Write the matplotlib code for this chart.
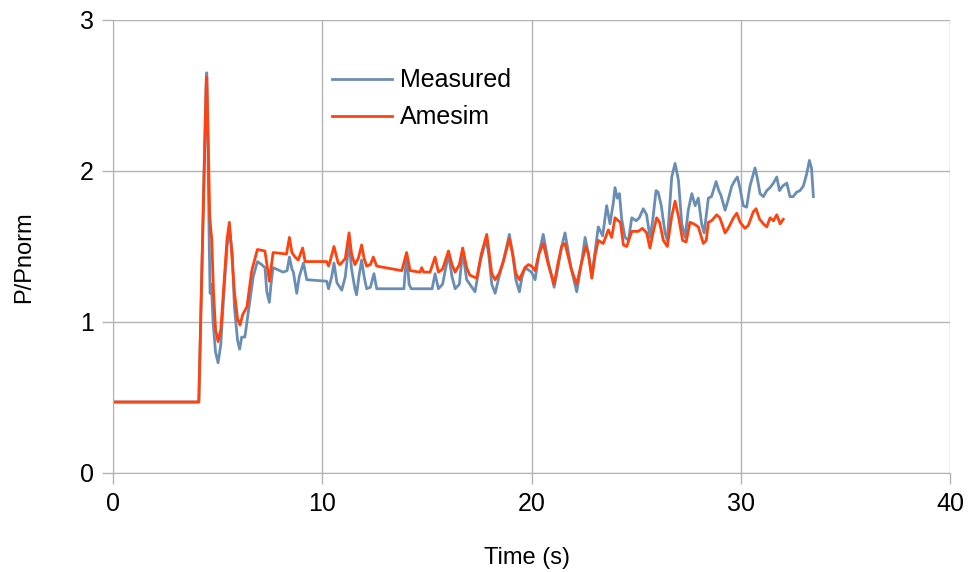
import matplotlib.pyplot as plt

# Measured pressure ratio
meas_t = [0, 4.1, 4.45, 4.48, 4.52, 4.6, 4.64, 4.7, 4.78, 4.9, 5.02, 5.15, 5.3, 5.45, 5.56, 5.62,
          5.7, 5.8, 5.95, 6.05, 6.15, 6.3, 6.5, 6.7, 6.9, 7.1, 7.26, 7.35, 7.47, 7.55, 7.65, 8.13,
          8.32, 8.43, 8.55, 8.62, 8.78, 8.9, 9.1, 9.26, 10.21, 10.3, 10.45, 10.56, 10.7, 10.93,
          11.1, 11.28, 11.4, 11.56, 11.64, 11.75, 11.88, 12.0, 12.12, 12.3, 12.47, 12.6, 13.9,
          14.03, 14.15, 14.25, 15.25, 15.39, 15.55, 15.75, 16.03, 16.2, 16.35, 16.55, 16.71, 16.9,
          17.05, 17.3, 17.55, 17.83, 17.95, 18.1, 18.26, 18.45, 18.65, 18.94, 19.1, 19.25, 19.42,
          19.55, 19.69, 20.0, 20.17, 20.35, 20.56, 20.8, 21.08, 21.25, 21.44, 21.6, 21.9, 22.16,
          22.4, 22.56, 22.72, 22.88, 23.19, 23.4, 23.59, 23.75, 23.91, 23.99, 24.1, 24.2, 24.31,
          24.47, 24.63, 24.79, 25.0, 25.15, 25.34, 25.5, 25.66, 25.79, 25.95, 26.05, 26.2, 26.38,
          26.49, 26.7, 26.86, 27.02, 27.18, 27.34, 27.49, 27.66, 27.82, 27.97, 28.13, 28.25, 28.45,
          28.6, 28.82, 28.95, 29.05, 29.25, 29.4, 29.57, 29.73, 29.84, 29.97, 30.12, 30.28, 30.44,
          30.6, 30.68, 30.78, 30.92, 31.08, 31.24, 31.4, 31.56, 31.72, 31.85, 32.0, 32.2, 32.35,
          32.5, 32.67, 32.83, 32.99, 33.15, 33.28, 33.38, 33.47]
meas_p = [0.47, 0.47, 2.6, 2.65, 2.3, 1.5, 1.19, 1.25, 1.0, 0.8, 0.73, 0.85, 1.2, 1.5, 1.62, 1.55,
          1.45, 1.1, 0.88, 0.82, 0.9, 0.9, 1.1, 1.3, 1.40, 1.38, 1.36, 1.2, 1.13, 1.25, 1.36, 1.33,
          1.34, 1.43, 1.35, 1.33, 1.19, 1.3, 1.39, 1.28, 1.27, 1.22, 1.3, 1.39, 1.26, 1.21,
          1.3, 1.53, 1.35, 1.22, 1.18, 1.3, 1.41, 1.3, 1.22, 1.23, 1.32, 1.22, 1.22,
          1.45, 1.25, 1.22, 1.22, 1.32, 1.22, 1.25, 1.45, 1.3, 1.22, 1.25, 1.47, 1.28,
          1.25, 1.2, 1.4, 1.55, 1.45, 1.25, 1.19, 1.3, 1.40, 1.58, 1.45, 1.28, 1.20,
          1.3, 1.36, 1.33, 1.28, 1.45, 1.58, 1.4, 1.23, 1.35, 1.5, 1.59, 1.35, 1.20,
          1.4, 1.56, 1.45, 1.30, 1.63, 1.57, 1.77, 1.65, 1.79, 1.89, 1.82, 1.85, 1.68,
          1.56, 1.54, 1.69, 1.67, 1.69, 1.75, 1.71, 1.56, 1.67, 1.87, 1.86, 1.77, 1.59,
          1.54, 1.96, 2.05, 1.94, 1.65, 1.56, 1.74, 1.85, 1.77, 1.82, 1.65, 1.59, 1.82,
          1.83, 1.93, 1.87, 1.84, 1.74, 1.81, 1.90, 1.94, 1.96, 1.88, 1.77, 1.76, 1.90,
          1.98, 2.02, 1.96, 1.85, 1.83, 1.87, 1.89, 1.92, 1.96, 1.87, 1.9, 1.92, 1.83,
          1.83, 1.86, 1.87, 1.90, 1.98, 2.07, 2.02, 1.83]

# Amesim simulation
sim_t = [0, 4.1, 4.45, 4.48, 4.55, 4.62, 4.72, 4.8, 4.9, 5.02, 5.15, 5.3, 5.45, 5.56, 5.65, 5.8,
         5.95, 6.07, 6.2, 6.4, 6.63, 6.9, 7.26, 7.47, 7.65, 8.29, 8.43, 8.55, 8.7, 8.85, 9.06,
         9.18, 10.21, 10.3, 10.37, 10.56, 10.76, 10.85, 11.1, 11.28, 11.4, 11.56, 11.72, 11.88,
         12.0, 12.12, 12.3, 12.44, 12.6, 13.8, 14.03, 14.2, 14.68, 14.75, 14.85, 15.15, 15.39,
         15.55, 15.75, 16.03, 16.2, 16.35, 16.55, 16.71, 16.9, 17.05, 17.38, 17.6, 17.86, 17.98,
         18.1, 18.26, 18.45, 18.65, 18.94, 19.1, 19.25, 19.42, 19.55, 19.69, 19.85, 20.0, 20.17,
         20.35, 20.56, 20.8, 21.08, 21.25, 21.44, 21.6, 21.9, 22.16, 22.4, 22.6, 22.72, 22.88,
         23.05, 23.19, 23.43, 23.67, 23.83, 23.99, 24.15, 24.25, 24.39, 24.55, 24.79, 25.1, 25.3,
         25.5, 25.66, 25.79, 25.98, 26.12, 26.3, 26.49, 26.7, 26.86, 27.02, 27.22, 27.39, 27.57,
         27.75, 27.97, 28.21, 28.35, 28.45, 28.6, 28.85, 29.0, 29.25, 29.4, 29.65, 29.81, 29.97,
         30.2, 30.36, 30.6, 30.73, 30.9, 31.08, 31.24, 31.4, 31.56, 31.72, 31.88, 32.03]
sim_p = [0.47, 0.47, 2.55, 2.62, 2.2, 1.7, 1.54, 1.2, 0.95, 0.87, 0.95, 1.25, 1.55, 1.66, 1.5, 1.2,
         1.02, 0.98, 1.05, 1.1, 1.34, 1.48, 1.47, 1.27, 1.46, 1.45, 1.56, 1.46, 1.43, 1.41, 1.49,
         1.40, 1.40, 1.37, 1.40, 1.50, 1.39, 1.38, 1.42, 1.59, 1.45, 1.38, 1.42, 1.51,
         1.42, 1.37, 1.38, 1.43, 1.37, 1.34, 1.46, 1.34, 1.33, 1.36, 1.33, 1.33, 1.43,
         1.33, 1.35, 1.47, 1.38, 1.33, 1.38, 1.49, 1.36, 1.31, 1.29, 1.45, 1.58, 1.45,
         1.32, 1.28, 1.32, 1.40, 1.55, 1.45, 1.32, 1.28, 1.32, 1.36, 1.38, 1.37, 1.34,
         1.45, 1.52, 1.38, 1.25, 1.38, 1.50, 1.52, 1.35, 1.25, 1.4, 1.50, 1.45, 1.29,
         1.45, 1.54, 1.52, 1.61, 1.56, 1.69, 1.67, 1.66, 1.51, 1.50, 1.60, 1.60, 1.62,
         1.59, 1.49, 1.58, 1.69, 1.66, 1.54, 1.50, 1.70, 1.80, 1.70, 1.54, 1.53, 1.66,
         1.65, 1.63, 1.52, 1.54, 1.66, 1.67, 1.71, 1.69, 1.59, 1.62, 1.69, 1.72, 1.66,
         1.62, 1.64, 1.73, 1.75, 1.68, 1.65, 1.63, 1.69, 1.67, 1.71, 1.65, 1.68]

x_ticks = [0, 10, 20, 30, 40]
y_ticks = [0, 1, 2, 3]

plt.rcParams['font.family'] = ['Liberation Sans', 'DejaVu Sans']

fig = plt.figure(figsize=(9.71, 5.72), dpi=100)
ax = fig.add_axes([0.1164, 0.1731, 0.862, 0.792])

ax.plot(meas_t, meas_p, color='#6a8db5', lw=2, label='Measured')
ax.plot(sim_t, sim_p, color='#ff420e', lw=2, label='Amesim')

ax.set_xlim(0, 40)
ax.set_ylim(0, 3)
ax.set_xticks(x_ticks)
ax.set_yticks(y_ticks)
ax.grid(True, color='#b3b3b3', lw=1)
ax.set_axisbelow(True)
for side in ['left', 'bottom', 'right', 'top']:
    ax.spines[side].set_color('#b3b3b3')
ax.spines['top'].set_visible(False)
ax.spines['right'].set_visible(False)
ax.tick_params(length=8, width=1, color='#b3b3b3', labelsize=18, pad=6)

ax.set_xlabel('Time (s)', fontsize=17, labelpad=22, x=0.495)
ax.set_ylabel('P/Pnorm', fontsize=17, labelpad=32, y=0.477)

ax.legend(loc='center left', bbox_to_anchor=(0.2345, 0.826), frameon=False, fontsize=18,
          handlelength=2.4, handletextpad=0.32, labelspacing=0.52)

plt.savefig('out.png', dpi=100)
